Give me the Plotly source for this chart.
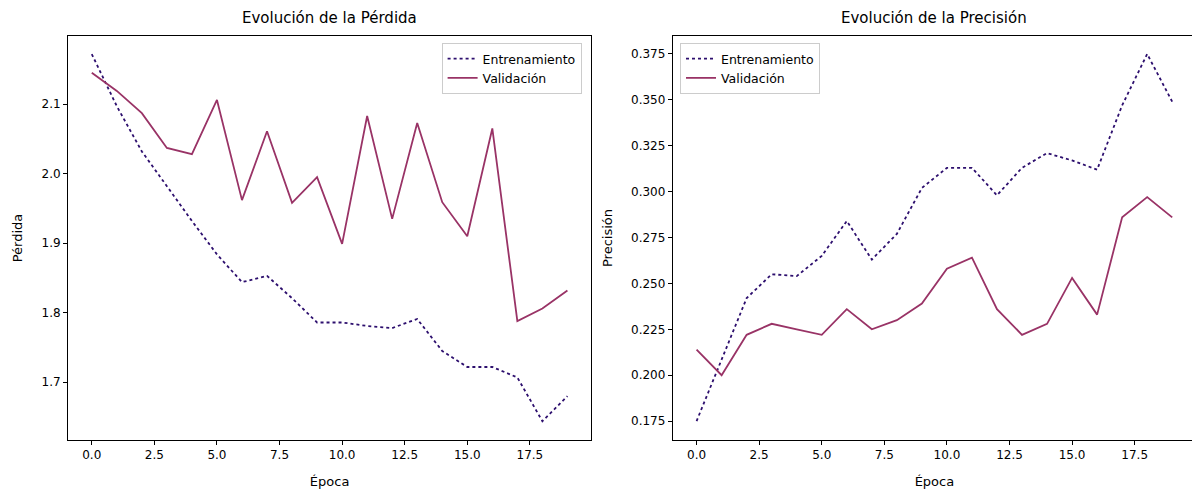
import plotly.graph_objects as go

epochs = list(range(20))
loss_train = [2.172, 2.097, 2.032, 1.982, 1.932, 1.884, 1.844, 1.853, 1.821, 1.786,
              1.786, 1.781, 1.778, 1.791, 1.745, 1.722, 1.722, 1.707, 1.644, 1.680]
loss_val = [2.145, 2.119, 2.087, 2.037, 2.028, 2.106, 1.962, 2.061, 1.958, 1.995,
            1.899, 2.083, 1.935, 2.073, 1.959, 1.910, 2.065, 1.788, 1.806, 1.832]
acc_train = [0.175, 0.208, 0.242, 0.255, 0.254, 0.265, 0.284, 0.263, 0.277, 0.302,
             0.313, 0.313, 0.298, 0.313, 0.321, 0.317, 0.312, 0.347, 0.375, 0.349]
acc_val = [0.214, 0.200, 0.222, 0.228, 0.225, 0.222, 0.236, 0.225, 0.230, 0.239,
           0.258, 0.264, 0.236, 0.222, 0.228, 0.253, 0.233, 0.286, 0.297, 0.286]

train_color = "#2d0f6e"
val_color = "#993366"

fig = go.Figure()
fig.add_trace(go.Scatter(x=epochs, y=loss_train, mode="lines", name="Entrenamiento",
                         line=dict(color=train_color, dash="dot", width=1.8), legend="legend"))
fig.add_trace(go.Scatter(x=epochs, y=loss_val, mode="lines", name="Validación",
                         line=dict(color=val_color, width=1.8), legend="legend"))
fig.add_trace(go.Scatter(x=epochs, y=acc_train, mode="lines", name="Entrenamiento",
                         line=dict(color=train_color, dash="dot", width=1.8),
                         xaxis="x2", yaxis="y2", legend="legend2"))
fig.add_trace(go.Scatter(x=epochs, y=acc_val, mode="lines", name="Validación",
                         line=dict(color=val_color, width=1.8),
                         xaxis="x2", yaxis="y2", legend="legend2"))

axis_style = dict(showgrid=False, zeroline=False, showline=True, linecolor="black",
                  mirror=True, ticks="outside", ticklen=4, tickcolor="black",
                  tickfont=dict(size=12, color="black"))

xticks = [0, 2.5, 5, 7.5, 10, 12.5, 15, 17.5]
xticktext = ["0.0", "2.5", "5.0", "7.5", "10.0", "12.5", "15.0", "17.5"]

fig.update_layout(
    width=1200, height=500,
    margin=dict(l=0, r=0, t=0, b=0),
    plot_bgcolor="white", paper_bgcolor="white",
    font=dict(family="DejaVu Sans", color="black"),
    xaxis=dict(domain=[0.050, 0.486], range=[-0.95, 19.95], tickvals=xticks, ticktext=xticktext,
               title=dict(text="Época", font=dict(size=13)), anchor="y", **axis_style),
    yaxis=dict(domain=[0.136, 0.944], range=[1.617, 2.198], tickvals=[1.7, 1.8, 1.9, 2.0, 2.1],
               tickformat=".1f", title=dict(text="Pérdida", font=dict(size=13)), anchor="x", **axis_style),
    xaxis2=dict(domain=[0.554, 0.990], range=[-0.95, 19.95], tickvals=xticks, ticktext=xticktext,
                title=dict(text="Época", font=dict(size=13)), anchor="y2", **axis_style),
    yaxis2=dict(domain=[0.136, 0.944], range=[0.1647, 0.3848], dtick=0.025, tickformat=".3f",
                title=dict(text="Precisión", font=dict(size=13)), anchor="x2", **axis_style),
    legend=dict(x=0.478, y=0.93, xanchor="right", yanchor="top", bgcolor="rgba(255,255,255,0.8)",
                bordercolor="#cccccc", borderwidth=1, font=dict(size=12.5), tracegroupgap=0),
    legend2=dict(x=0.560, y=0.93, xanchor="left", yanchor="top", bgcolor="rgba(255,255,255,0.8)",
                 bordercolor="#cccccc", borderwidth=1, font=dict(size=12.5), tracegroupgap=0),
    annotations=[
        dict(text="Evolución de la Pérdida", x=0.268, y=0.959, xref="paper", yref="paper",
             xanchor="center", yanchor="bottom", showarrow=False, font=dict(size=15)),
        dict(text="Evolución de la Precisión", x=0.772, y=0.959, xref="paper", yref="paper",
             xanchor="center", yanchor="bottom", showarrow=False, font=dict(size=15)),
    ],
)

fig.write_html("out.html")
